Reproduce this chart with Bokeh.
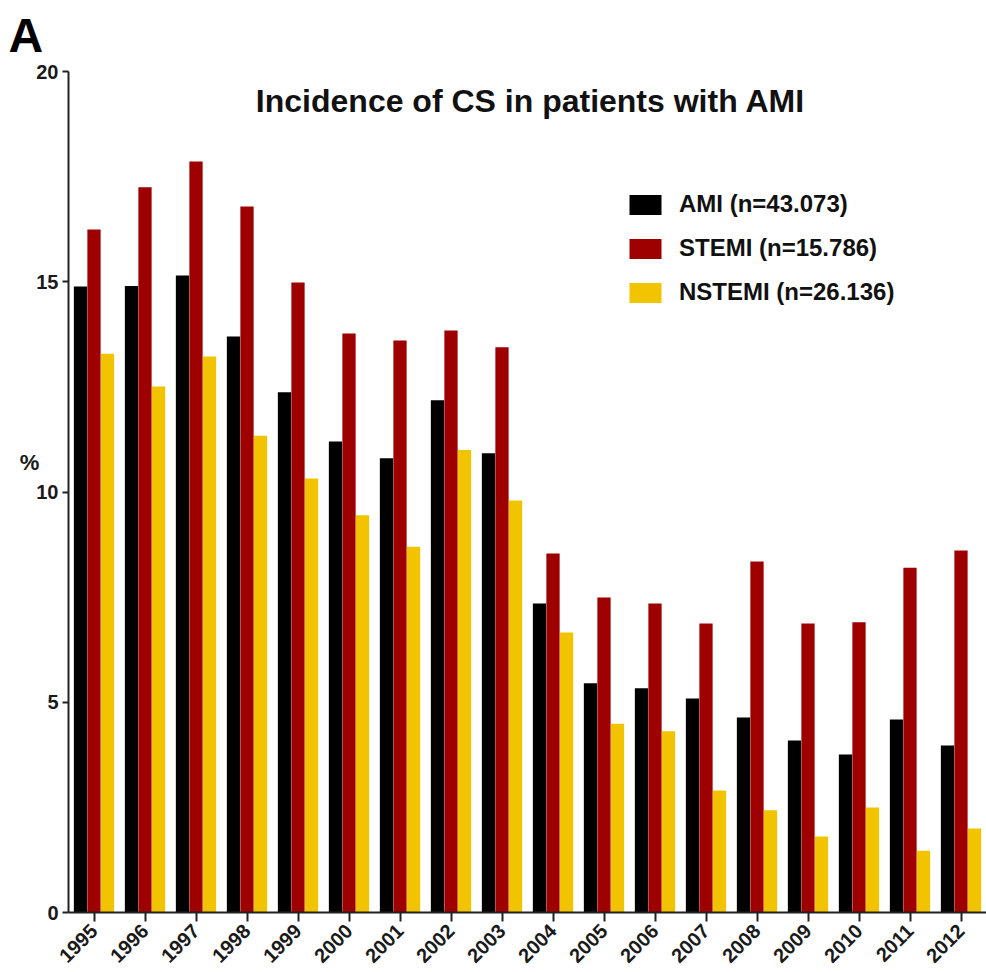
from bokeh.plotting import figure
from bokeh.models import ColumnDataSource, FactorRange, Label, Range1d, Title
from bokeh.transform import dodge
from bokeh.embed import file_html
from bokeh.resources import INLINE

years = ["1995", "1996", "1997", "1998", "1999", "2000", "2001", "2002", "2003",
         "2004", "2005", "2006", "2007", "2008", "2009", "2010", "2011", "2012"]
ami = [14.89, 14.9, 15.15, 13.7, 12.37, 11.2, 10.8, 12.18, 10.92,
       7.35, 5.45, 5.33, 5.09, 4.64, 4.09, 3.76, 4.59, 3.97]
stemi = [16.24, 17.25, 17.86, 16.79, 14.98, 13.77, 13.6, 13.84, 13.44,
         8.54, 7.49, 7.35, 6.87, 8.35, 6.87, 6.9, 8.2, 8.61]
nstemi = [13.29, 12.51, 13.22, 11.34, 10.32, 9.45, 8.7, 11.0, 9.8,
          6.66, 4.49, 4.31, 2.9, 2.43, 1.81, 2.5, 1.47, 2.0]
series_labels = ["AMI (n=43.073)", "STEMI (n=15.786)", "NSTEMI (n=26.136)"]
colors = ["#000000", "#9e0000", "#f2c400"]
title_text = "Incidence of CS in patients with AMI"
y_ticks = [0, 5, 10, 15, 20]

FONT = "Liberation Sans"

src = ColumnDataSource(dict(year=years, ami=ami, stemi=stemi, nstemi=nstemi))

p = figure(width=986, height=972, output_backend="svg", toolbar_location=None,
           x_range=FactorRange(*years, range_padding=0), y_range=Range1d(0, 20),
           min_border_left=68, min_border_right=0, min_border_top=71, min_border_bottom=60)
p.outline_line_color = None
p.grid.grid_line_color = None
p.background_fill_color = "white"

w = 0.26
for key, off, col, lab in zip(["ami", "stemi", "nstemi"], [-0.265, 0.0, 0.265], colors, series_labels):
    p.vbar(x=dodge("year", off, range=p.x_range), top=key, width=w, source=src,
           fill_color=col, line_color=None, legend_label=lab)

# axes
p.axis.axis_line_width = 2
p.axis.axis_line_color = "#222222"
p.axis.major_tick_line_width = 2
p.axis.major_tick_line_color = "#222222"
p.axis.major_tick_in = 0
p.axis.major_label_text_font = FONT
p.axis.major_label_text_font_style = "bold"
p.axis.major_label_text_font_size = "20px"
p.axis.major_label_text_color = "#1a1a1a"
p.yaxis.ticker = y_ticks
p.yaxis.minor_tick_line_color = None
p.yaxis.major_tick_out = 6
p.yaxis.major_label_standoff = 4
p.xaxis.major_tick_out = 9
p.xaxis.major_label_orientation = 0.785
p.xaxis.major_label_standoff = 6

# y-axis label "%" shown horizontally
p.yaxis.axis_label = "%\n\n"
p.yaxis.axis_label_text_font = FONT
p.yaxis.axis_label_text_font_style = "bold"
p.yaxis.axis_label_text_font_size = "22px"
p.yaxis.axis_label_text_color = "#1a1a1a"
p.yaxis.axis_label_standoff = -6
try:
    p.yaxis.axis_label_orientation = "horizontal"
except Exception:
    pass

# legend
lg = p.legend[0]
lg.location = (557, 606)
lg.border_line_color = None
lg.background_fill_alpha = 0
lg.padding = 0
lg.margin = 0
lg.glyph_width = 40
lg.glyph_height = 25
lg.spacing = 16
lg.label_standoff = 14
lg.label_text_font = FONT
lg.label_text_font_style = "bold"
lg.label_text_font_size = "24px"
lg.label_text_color = "#111111"
lg.label_height = 25

# title inside plot
p.add_layout(Label(x=9.06, y=19.3, text=title_text, text_align="center", text_baseline="middle",
                   text_font=FONT, text_font_style="bold", text_font_size="32px",
                   text_color="#111111"))

# panel letter
p.add_layout(Title(text="A", align="left", offset=-60, text_font=FONT, text_font_style="bold",
                   text_font_size="48px", text_color="#000000", standoff=16,
                   vertical_align="top"), "above")

open("out.html", "w").write(file_html(p, INLINE))
